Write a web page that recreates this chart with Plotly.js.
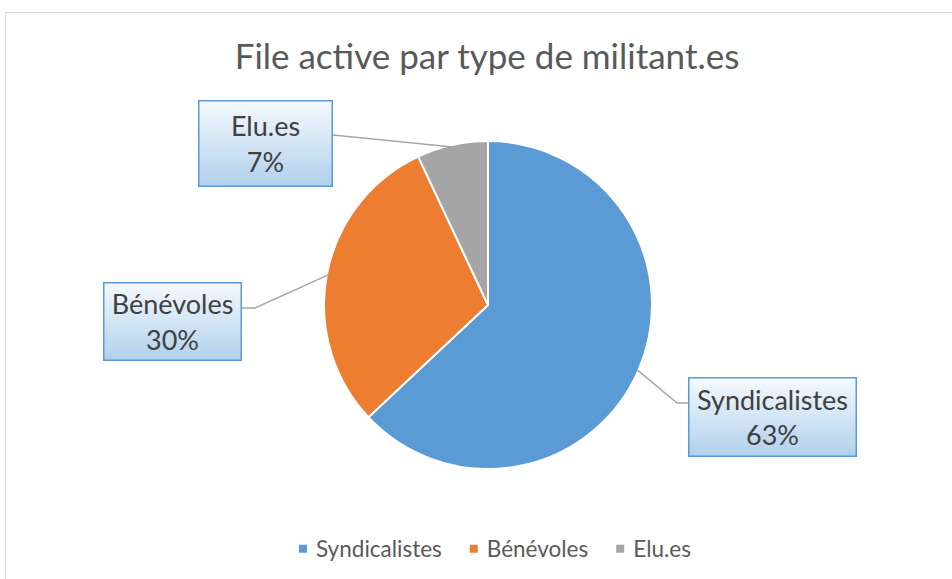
<!DOCTYPE html>
<html>
<head>
<meta charset="utf-8">
<script src="https://cdn.plot.ly/plotly-3.0.1.min.js"></script>
<style>
  html, body { margin: 0; padding: 0; background: #ffffff; }
  #chart { width: 952px; height: 579px; }
</style>
</head>
<body>
<div id="chart"></div>
<script>
// ---- data ----
const categories = ["Syndicalistes", "Bénévoles", "Elu.es"];
const values = [63, 30, 7];
const sliceColors = ["#5b9bd5", "#ed7d31", "#a5a5a5"];
const chartTitle = "File active par type de militant.es";

// ---- layout helpers (pixels -> paper) ----
const W = 952, H = 579;
const px = x => x / W;
const py = y => 1 - y / H;

const cx = 488, cy = 305, R = 164;

// callout boxes (centre, size) and elbow points for leader lines
const boxes = [
  { cx: 772.5, cy: 417, w: 169, h: 80, attach: [688, 403], elbow: [677, 403] },
  { cx: 172.5, cy: 321, w: 139, h: 79, attach: [242, 308], elbow: [255, 308] },
  { cx: 265.5, cy: 143.5, w: 135, h: 87, attach: [333, 135], elbow: null }
];

const total = values.reduce((a, b) => a + b, 0);
let cum = 0;
const shapes = [];
const annotations = [];

// chart frame
shapes.push({ type: 'rect', xref: 'paper', yref: 'paper',
  x0: px(5.5), x1: px(990), y0: py(12.5), y1: py(620),
  line: { color: '#d9d9d9', width: 1 }, fillcolor: 'rgba(0,0,0,0)', layer: 'below' });

values.forEach((v, i) => {
  const mid = (cum + v / 2) / total * 2 * Math.PI;
  cum += v;
  const ex = cx + (R - 2) * Math.sin(mid);
  const ey = cy - (R - 2) * Math.cos(mid);
  const b = boxes[i];
  let path = `M${px(ex)},${py(ey)}`;
  if (b.elbow) path += ` L${px(b.elbow[0])},${py(b.elbow[1])}`;
  path += ` L${px(b.attach[0])},${py(b.attach[1])}`;
  shapes.push({ type: 'path', xref: 'paper', yref: 'paper', path: path,
    line: { color: '#a6a6a6', width: 1.5 }, layer: 'above' });
  const pct = Math.round(v / total * 100) + '%';
  annotations.push({
    xref: 'paper', yref: 'paper', x: px(b.cx), y: py(b.cy),
    xanchor: 'center', yanchor: 'middle', showarrow: false,
    text: categories[i] + '<br>' + pct,
    width: b.w - 3, height: b.h - 3, borderpad: 0, borderwidth: 1.5,
    bordercolor: '#5b9bd5', bgcolor: '#d2e4f4',
    font: { family: 'Lato, sans-serif', size: 27, color: '#404040' }
  });
});

const trace = {
  type: 'pie',
  labels: categories,
  values: values,
  sort: false,
  direction: 'clockwise',
  rotation: 0,
  textinfo: 'none',
  hoverinfo: 'label+percent',
  marker: { colors: sliceColors, line: { color: '#ffffff', width: 2 } },
  domain: { x: [px(cx - R), px(cx + R)], y: [py(cy + R), py(cy - R)] }
};

const layout = {
  width: W, height: H,
  margin: { l: 0, r: 0, t: 0, b: 0 },
  paper_bgcolor: '#ffffff',
  title: { text: chartTitle, x: px(487), y: py(57), xanchor: 'center', yanchor: 'middle',
    font: { family: 'Lato, sans-serif', size: 35, color: '#595959' } },
  showlegend: true,
  legend: { orientation: 'h', x: px(486), y: py(549), xanchor: 'center', yanchor: 'middle',
    font: { family: 'Lato, sans-serif', size: 22.5, color: '#595959' }, traceorder: 'normal' },
  shapes: shapes,
  annotations: annotations
};

Plotly.newPlot('chart', [trace], layout, { staticPlot: true }).then(() => {
  // gradient fill for callout boxes
  document.querySelectorAll('g.annotation rect.bg').forEach((r) => {
    const svg = r.ownerSVGElement;
    let defs = svg.querySelector('defs#calloutDefs');
    if (!defs) {
      defs = document.createElementNS('http://www.w3.org/2000/svg', 'defs');
      defs.id = 'calloutDefs';
      defs.innerHTML = '<linearGradient id="calloutGrad" x1="0" y1="0" x2="0" y2="1">' +
        '<stop offset="0" stop-color="#f5f9fd"/>' +
        '<stop offset="0.5" stop-color="#d3e5f5"/>' +
        '<stop offset="1" stop-color="#b1d0ec"/></linearGradient>';
      svg.insertBefore(defs, svg.firstChild);
    }
    r.style.fill = 'url(#calloutGrad)';
  });
  // smaller square legend markers, closer to their text
  document.querySelectorAll('.legendpoints path').forEach(p => {
    p.setAttribute('d', 'M11,4H3V-4H11Z');
    p.style.strokeWidth = '0';
  });
});
</script>
</body>
</html>
